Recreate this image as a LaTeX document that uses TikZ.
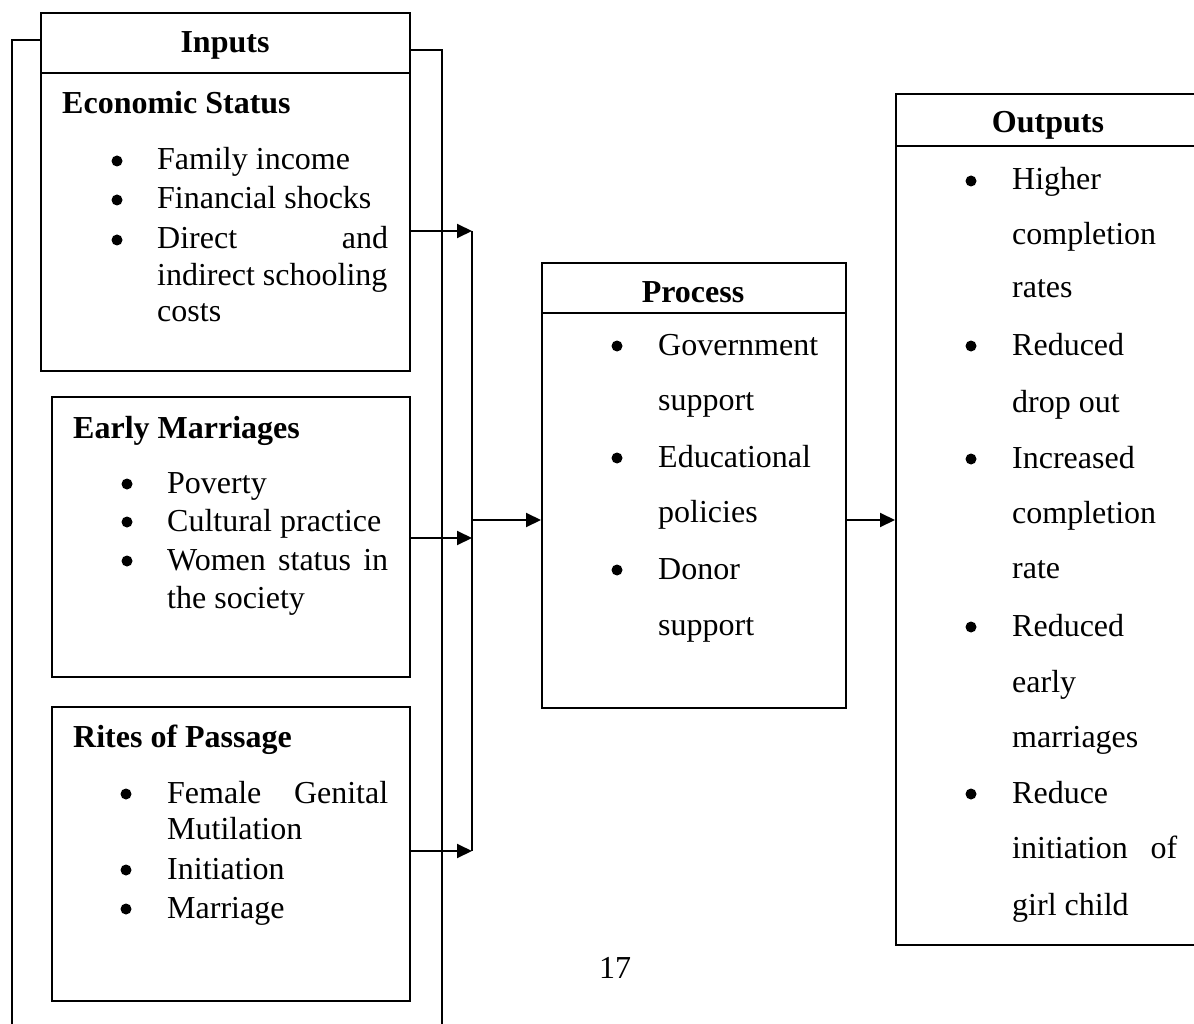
\documentclass[tikz,border=0pt]{standalone}
\usepackage{fontspec}
\setmainfont{Liberation Serif}
\usetikzlibrary{arrows.meta}
\begin{document}
\begin{tikzpicture}[x=1pt,y=-1pt,
  box/.style={draw, line width=2pt, inner sep=0pt, anchor=north west},
  txt/.style={anchor=base west, inner sep=0pt, font=\fontsize{32}{38}\selectfont},
  hd/.style={anchor=base, inner sep=0pt, font=\fontsize{32}{38}\selectfont\bfseries},
  subhd/.style={anchor=base west, inner sep=0pt, font=\fontsize{32}{38}\selectfont\bfseries},
  bul/.style={circle, fill, inner sep=0pt, minimum size=11pt, yshift=9pt},
  pgnum/.style={anchor=base, inner sep=0pt, font=\fontsize{32}{38}\selectfont},
  wire/.style={line width=2pt},
  arr/.style={line width=2pt, -{Triangle[length=15pt,width=14pt]}}
]
\fill[white] (0,0) rectangle (1194,1024);
\useasboundingbox (0,0) rectangle (1194,1024);

% boxes
\node[box, minimum width=369pt, minimum height=358pt] (inputs) at (40,12) {};
\node[box, minimum width=358pt, minimum height=280pt] (early) at (51,396) {};
\node[box, minimum width=358pt, minimum height=294pt] (rites) at (51,706) {};
\node[box, minimum width=304pt, minimum height=445pt] (process) at (541,262) {};
\node[box, minimum width=302pt, minimum height=851pt] (outputs) at (895,93) {};

\coordinate (h1) at (0,73);
\coordinate (h2) at (0,313);
\coordinate (h3) at (0,146);
\draw[wire] (inputs.west |- h1) -- (inputs.east |- h1);
\draw[wire] (process.west |- h2) -- (process.east |- h2);
\draw[wire] (outputs.west |- h3) -- (outputs.east |- h3);

% outer bracket lines
\coordinate (t1) at (0,40);
\coordinate (t2) at (0,50);
\coordinate (lb) at (12,1030);
\coordinate (rb) at (442,1030);
\draw[wire] (inputs.west |- t1) -| (lb);
\draw[wire] (inputs.east |- t2) -| (rb);

% connectors
\coordinate (j1) at (472,231);
\coordinate (j2) at (472,538);
\coordinate (j3) at (472,851);
\coordinate (jm) at (472,520);
\draw[wire] (j1) -- (j3);
\draw[arr] (inputs.east |- j1) -- (j1);
\draw[arr] (early.east |- j2) -- (j2);
\draw[arr] (rites.east |- j3) -- (j3);
\draw[arr] (jm) -- (process.west |- jm);
\draw[arr] (process.east |- jm) -- (outputs.west |- jm);

% Inputs
\node[hd] (tin) at (225,53) {Inputs};
\node[subhd] (tec) at (62,114) {Economic Status};
\node[bul] (b1) at (117,170) {};
\node[txt] (e1) at (157,170) {Family income};
\node[bul] (b2) at (117,209) {};
\node[txt] (e2) at (157,209) {Financial shocks};
\node[bul] (b3) at (117,249) {};
\node[txt] (e3) at (157,249) {\makebox[231pt][s]{Direct and}};
\node[txt] (e4) at (157,286) {indirect schooling};
\node[txt] (e5) at (157,322) {costs};

% Early marriages
\node[subhd] (tem) at (73,438) {Early Marriages};
\node[bul] (b4) at (127,493) {};
\node[txt] (m1) at (167,493) {Poverty};
\node[bul] (b5) at (127,531) {};
\node[txt] (m2) at (167,531) {Cultural practice};
\node[bul] (b6) at (127,570) {};
\node[txt] (m3) at (167,570) {\makebox[221pt][s]{Women status in}};
\node[txt] (m4) at (167,608) {the society};

% Rites of passage
\node[subhd] (trp) at (73,747) {Rites of Passage};
\node[bul] (b7) at (126,803) {};
\node[txt] (r1) at (167,803) {\makebox[221pt][s]{Female Genital}};
\node[txt] (r2) at (167,839) {Mutilation};
\node[bul] (b8) at (126,879) {};
\node[txt] (r3) at (167,879) {Initiation};
\node[bul] (b9) at (126,918) {};
\node[txt] (r4) at (167,918) {Marriage};

% Process
\node[hd] (tpr) at (693,302) {Process};
\node[bul] (p1b) at (617,355) {};
\node[txt] (p1) at (658,355) {Government};
\node[txt] (p2) at (658,410) {support};
\node[bul] (p3b) at (617,467) {};
\node[txt] (p3) at (658,467) {Educational};
\node[txt] (p4) at (658,522) {policies};
\node[bul] (p5b) at (617,579) {};
\node[txt] (p5) at (658,579) {Donor};
\node[txt] (p6) at (658,635) {support};

% Outputs
\node[hd] (tou) at (1048,133) {Outputs};
\node[bul] (o1b) at (971,190) {};
\node[txt] (o1) at (1012,190) {Higher};
\node[txt] (o2) at (1012,245) {completion};
\node[txt] (o3) at (1012,298) {rates};
\node[bul] (o4b) at (971,355) {};
\node[txt] (o4) at (1012,355) {Reduced};
\node[txt] (o5) at (1012,412) {drop out};
\node[bul] (o6b) at (971,468) {};
\node[txt] (o6) at (1012,468) {Increased};
\node[txt] (o7) at (1012,523) {completion};
\node[txt] (o8) at (1012,578) {rate};
\node[bul] (o9b) at (971,636) {};
\node[txt] (o9) at (1012,636) {Reduced};
\node[txt] (o10) at (1012,692) {early};
\node[txt] (o11) at (1012,747) {marriages};
\node[bul] (o12b) at (971,803) {};
\node[txt] (o12) at (1012,803) {Reduce};
\node[txt] (o13) at (1012,858) {\makebox[165pt][s]{initiation of}};
\node[txt] (o14) at (1012,915) {girl child};

% page number
\node[pgnum] (pg) at (615,978) {17};
\end{tikzpicture}
\end{document}
